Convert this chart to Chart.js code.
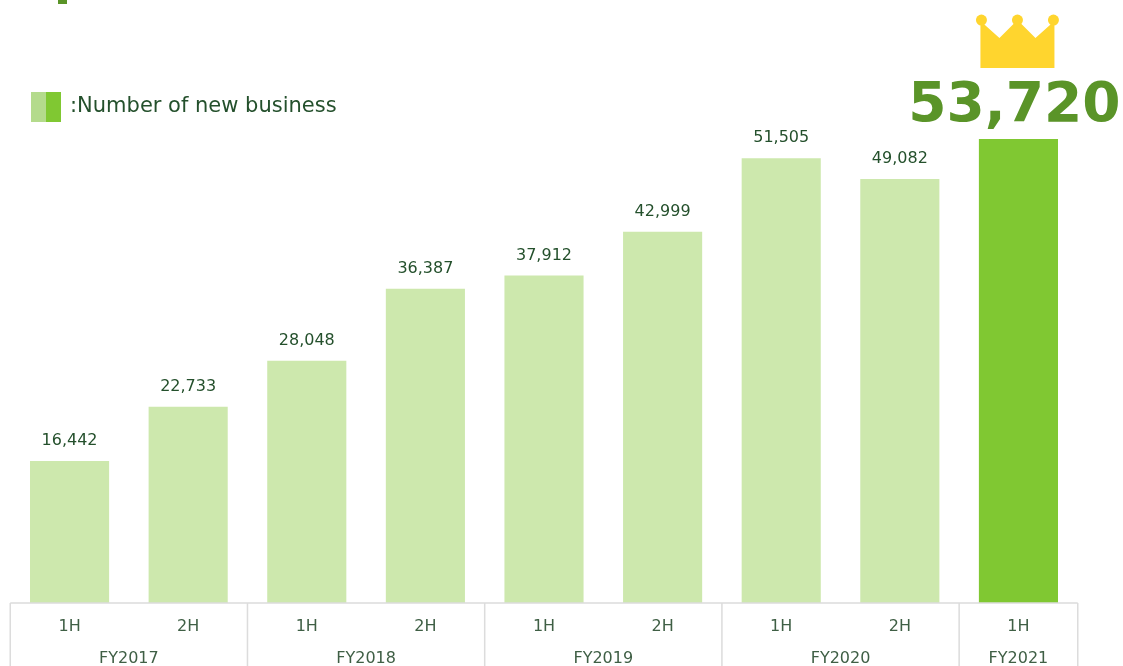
<!DOCTYPE html>
<html>
<head>
<meta charset="utf-8">
<title>Number of new business</title>
<style>
html,body{margin:0;padding:0;background:#fff;overflow:hidden}
canvas{display:block}
</style>
<script src="https://cdn.jsdelivr.net/npm/chart.js@4"></script>
</head>
<body>
<canvas id="chart" width="1123" height="666"></canvas>
<script>
// Half-year periods and their counts
const halves = ["1H","2H","1H","2H","1H","2H","1H","2H","1H"];
const newBusiness = [16442,22733,28048,36387,37912,42999,51505,49082,53720];
// Fiscal years and how many half-year columns each one spans
const fiscalYears = ["FY2017","FY2018","FY2019","FY2020","FY2021"];
const fiscalSpans = [2,2,2,2,1];
const legendText = ":Number of new business";

const FONT = '"DejaVu Sans", Verdana, sans-serif';
const PALE = "#cde8ad", STRONG = "#80c832", HEADLINE = "#5a9428";
const TEXT = "#24502c", AXIS_TEXT = "#3f5f45", RULE = "#dcdcdc", CROWN = "#ffd52e";
const lastIndex = newBusiness.length - 1;

const fmt = v => v.toLocaleString("en-US");

// Value labels above the bars; the newest period gets the headline figure and crown
const barLabels = {
  id: "barLabels",
  afterDatasetsDraw(chart) {
    const { ctx } = chart;
    const bars = chart.getDatasetMeta(0).data;
    ctx.save();
    ctx.textAlign = "center";
    ctx.textBaseline = "alphabetic";
    bars.forEach((bar, i) => {
      if (i === lastIndex) return;
      ctx.font = "16px " + FONT;
      ctx.fillStyle = TEXT;
      ctx.fillText(fmt(newBusiness[i]), bar.x, bar.y - 16);
    });
    const top = bars[lastIndex];
    ctx.font = "bold 55px " + FONT;
    ctx.fillStyle = HEADLINE;
    ctx.fillText(fmt(newBusiness[lastIndex]), top.x - 4, top.y - 18);

    // Crown above the headline figure
    const cx = top.x - 1, by = top.y - 71;
    ctx.fillStyle = CROWN;
    ctx.beginPath();
    ctx.moveTo(cx - 37, by);
    ctx.lineTo(cx - 37, by - 47);
    ctx.lineTo(cx - 18, by - 30);
    ctx.lineTo(cx, by - 48);
    ctx.lineTo(cx + 18, by - 30);
    ctx.lineTo(cx + 37, by - 47);
    ctx.lineTo(cx + 37, by);
    ctx.closePath();
    ctx.fill();
    [-36, 0, 36].forEach(dx => {
      ctx.beginPath();
      ctx.arc(cx + dx, by - 48, 5.5, 0, Math.PI * 2);
      ctx.fill();
    });
    ctx.restore();
  }
};

// Table-style frame under the bars with the fiscal-year row
const fiscalTable = {
  id: "fiscalTable",
  afterDraw(chart) {
    const { ctx, chartArea, scales: { x } } = chart;
    const y0 = chartArea.bottom, h = chart.height;
    const step = x.getPixelForValue(1) - x.getPixelForValue(0);
    ctx.save();
    ctx.strokeStyle = RULE;
    ctx.lineWidth = 1.5;
    ctx.beginPath();
    ctx.moveTo(chartArea.left, y0);
    ctx.lineTo(chartArea.right, y0);
    let start = 0;
    const edge = i => x.getPixelForValue(i) - step / 2;
    ctx.moveTo(edge(0), y0);
    ctx.lineTo(edge(0), h);
    fiscalSpans.forEach(span => {
      start += span;
      ctx.moveTo(edge(start), y0);
      ctx.lineTo(edge(start), h);
    });
    ctx.stroke();

    ctx.font = "16px " + FONT;
    ctx.fillStyle = AXIS_TEXT;
    ctx.textAlign = "center";
    ctx.textBaseline = "middle";
    start = 0;
    fiscalYears.forEach((name, i) => {
      const mid = (edge(start) + edge(start + fiscalSpans[i])) / 2;
      ctx.fillText(name, mid, y0 + 56);
      start += fiscalSpans[i];
    });
    ctx.restore();
  }
};

// Two-tone legend swatch and caption, plus the tail of the page heading
const legendBlock = {
  id: "legendBlock",
  afterDraw(chart) {
    const { ctx } = chart;
    ctx.save();
    ctx.fillStyle = HEADLINE;
    ctx.fillRect(58, 0, 9, 4);
    ctx.fillStyle = "#b4db8c";
    ctx.fillRect(31, 92, 15, 30);
    ctx.fillStyle = STRONG;
    ctx.fillRect(46, 92, 15, 30);
    ctx.font = "21px " + FONT;
    ctx.fillStyle = TEXT;
    ctx.textAlign = "left";
    ctx.textBaseline = "middle";
    ctx.fillText(legendText, 70, 107);
    ctx.restore();
  }
};

new Chart(document.getElementById("chart"), {
  type: "bar",
  data: {
    labels: halves,
    datasets: [{
      label: "Number of new business",
      data: newBusiness,
      backgroundColor: newBusiness.map((_, i) => i === lastIndex ? STRONG : PALE),
      borderWidth: 0,
      categoryPercentage: 1,
      barPercentage: 0.667
    }]
  },
  options: {
    responsive: false,
    animation: false,
    layout: { padding: { left: 10.25, right: 45.25, top: 84.8, bottom: 0 } },
    plugins: { legend: { display: false }, tooltip: { enabled: false }, title: { display: false } },
    scales: {
      y: { display: false, min: 0, max: 60000 },
      x: {
        grid: { display: false, drawTicks: false },
        border: { display: false },
        ticks: { autoSkip: false, maxRotation: 0, padding: 14, color: AXIS_TEXT, font: { family: FONT, size: 16 } },
        afterFit(scale) { scale.height = 63; }
      }
    }
  },
  plugins: [barLabels, fiscalTable, legendBlock]
});
</script>
</body>
</html>
